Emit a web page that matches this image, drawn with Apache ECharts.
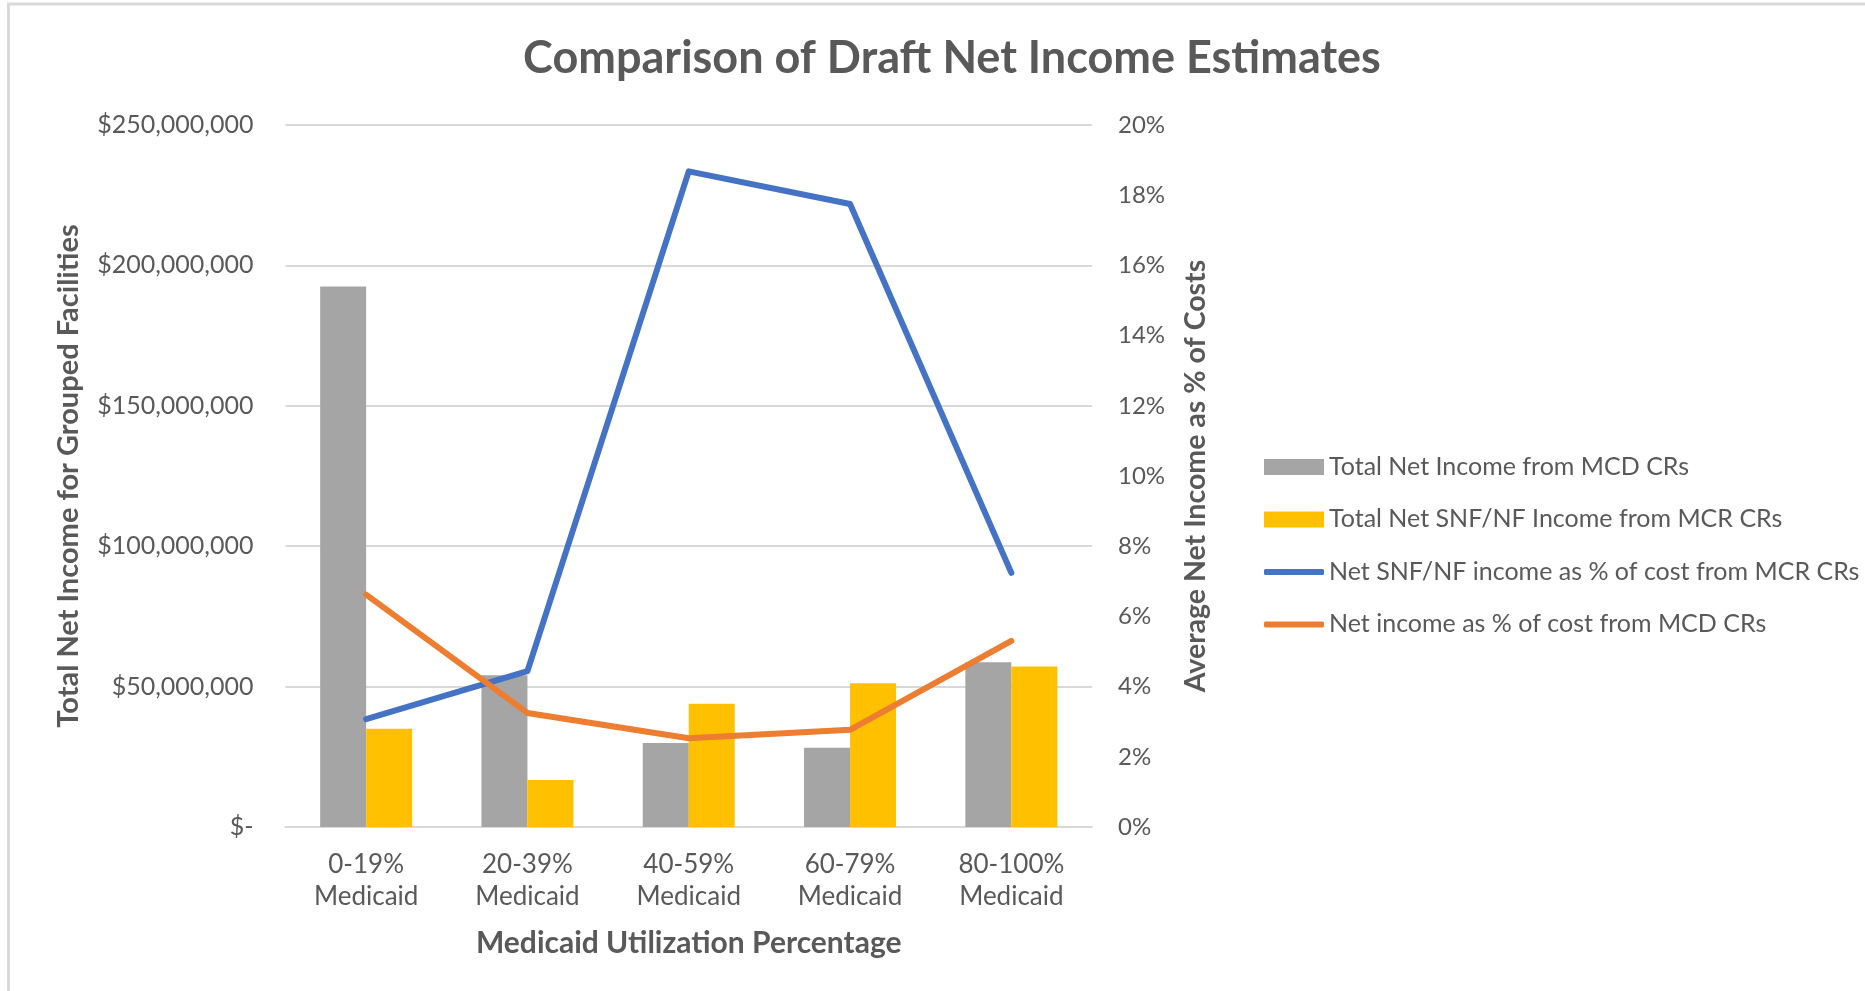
<!DOCTYPE html>
<html>
<head>
<meta charset="utf-8">
<script src="https://cdn.jsdelivr.net/npm/echarts@6/dist/echarts.min.js"></script>
<style>
html,body{margin:0;padding:0;background:#fff;}
#chart{width:1865px;height:991px;}
</style>
</head>
<body>
<div id="chart"></div>
<script>
var categories = ['0-19%\nMedicaid', '20-39%\nMedicaid', '40-59%\nMedicaid', '60-79%\nMedicaid', '80-100%\nMedicaid'];
var mcdTotal = [192500000, 54000000, 29900000, 28200000, 58700000];
var mcrSnfTotal = [35000000, 16700000, 43900000, 51200000, 57200000];
var mcrPct = [3.07, 4.44, 18.68, 17.75, 7.24];
var mcdPct = [6.62, 3.25, 2.53, 2.77, 5.30];
var seriesNames = ['Total Net Income from MCD CRs', 'Total Net SNF/NF Income from MCR CRs', 'Net SNF/NF income as % of cost from MCR CRs', 'Net income as % of cost from MCD CRs'];

var FONT = 'Lato';
var TXT = '#595959';
var chart = echarts.init(document.getElementById('chart'), null, {renderer: 'canvas'});

function money(v) {
  if (v === 0) return '$-';
  return '$' + String(v).replace(/\B(?=(\d{3})+(?!\d))/g, ',');
}

chart.setOption({
  backgroundColor: '#ffffff',
  animation: false,
  textStyle: {fontFamily: FONT, color: TXT},
  title: {
    text: 'Comparison of Draft Net Income Estimates',
    left: 947, top: 31, textAlign: 'center',
    textStyle: {fontFamily: FONT, fontSize: 45, fontWeight: 'bold', color: TXT}
  },
  graphic: [
    {type: 'line', shape: {x1: 7, y1: 4, x2: 1865, y2: 4}, style: {stroke: '#D9D9D9', lineWidth: 3}},
    {type: 'line', shape: {x1: 8.5, y1: 3, x2: 8.5, y2: 991}, style: {stroke: '#D9D9D9', lineWidth: 3}}
  ],
  legend: [
    {
      orient: 'vertical', left: 1259, top: 447,
      itemWidth: 60, itemHeight: 16, itemGap: 22.4,
      icon: 'rect',
      data: [seriesNames[0], seriesNames[1]],
      textStyle: {fontFamily: FONT, fontSize: 25, color: TXT, lineHeight: 30}
    },
    {
      orient: 'vertical', left: 1259, top: 552,
      itemWidth: 60, itemHeight: 6, itemGap: 22.4,
      icon: 'roundRect',
      data: [seriesNames[2], seriesNames[3]],
      textStyle: {fontFamily: FONT, fontSize: 25, color: TXT, lineHeight: 30}
    }
  ],
  grid: {left: 285.5, right: 773, top: 125, bottom: 164, containLabel: false},
  xAxis: {
    type: 'category',
    data: categories,
    name: 'Medicaid Utilization Percentage',
    nameLocation: 'middle', nameGap: 101,
    nameTextStyle: {fontFamily: FONT, fontSize: 30, fontWeight: 'bold', color: TXT},
    axisLine: {show: true, lineStyle: {color: '#D9D9D9', width: 2}},
    axisTick: {show: false},
    axisLabel: {fontFamily: FONT, fontSize: 26, color: TXT, lineHeight: 32, margin: 22, interval: 0}
  },
  yAxis: [
    {
      type: 'value', min: 0, max: 250000000, interval: 50000000,
      name: 'Total Net Income for Grouped Facilities',
      nameLocation: 'middle', nameGap: 202, nameRotate: 90,
      nameTextStyle: {fontFamily: FONT, fontSize: 29, fontWeight: 'bold', color: TXT},
      axisLine: {show: false}, axisTick: {show: false},
      splitLine: {show: true, lineStyle: {color: '#D9D9D9', width: 2}},
      axisLabel: {fontFamily: FONT, fontSize: 25, color: TXT, margin: 32, formatter: money}
    },
    {
      type: 'value', min: 0, max: 20, interval: 2,
      name: 'Average Net Income as % of Costs',
      nameLocation: 'middle', nameGap: 89, nameRotate: 90,
      nameTextStyle: {fontFamily: FONT, fontSize: 28.5, fontWeight: 'bold', color: TXT},
      axisLine: {show: false}, axisTick: {show: false},
      splitLine: {show: false},
      axisLabel: {fontFamily: FONT, fontSize: 24, color: TXT, margin: 26, formatter: function (v) { return v + '%'; }}
    }
  ],
  series: [
    {name: seriesNames[0], type: 'bar', data: mcdTotal, barWidth: 46, barGap: '0%', itemStyle: {color: '#A5A5A5'}, yAxisIndex: 0},
    {name: seriesNames[1], type: 'bar', data: mcrSnfTotal, barWidth: 46, barGap: '0%', itemStyle: {color: '#FFC000'}, yAxisIndex: 0},
    {name: seriesNames[2], type: 'line', data: mcrPct, yAxisIndex: 1, symbol: 'none', itemStyle: {color: '#4472C4'}, lineStyle: {color: '#4472C4', width: 6, cap: 'round', join: 'round'}},
    {name: seriesNames[3], type: 'line', data: mcdPct, yAxisIndex: 1, symbol: 'none', itemStyle: {color: '#ED7D31'}, lineStyle: {color: '#ED7D31', width: 6, cap: 'round', join: 'round'}}
  ]
});
</script>
</body>
</html>
